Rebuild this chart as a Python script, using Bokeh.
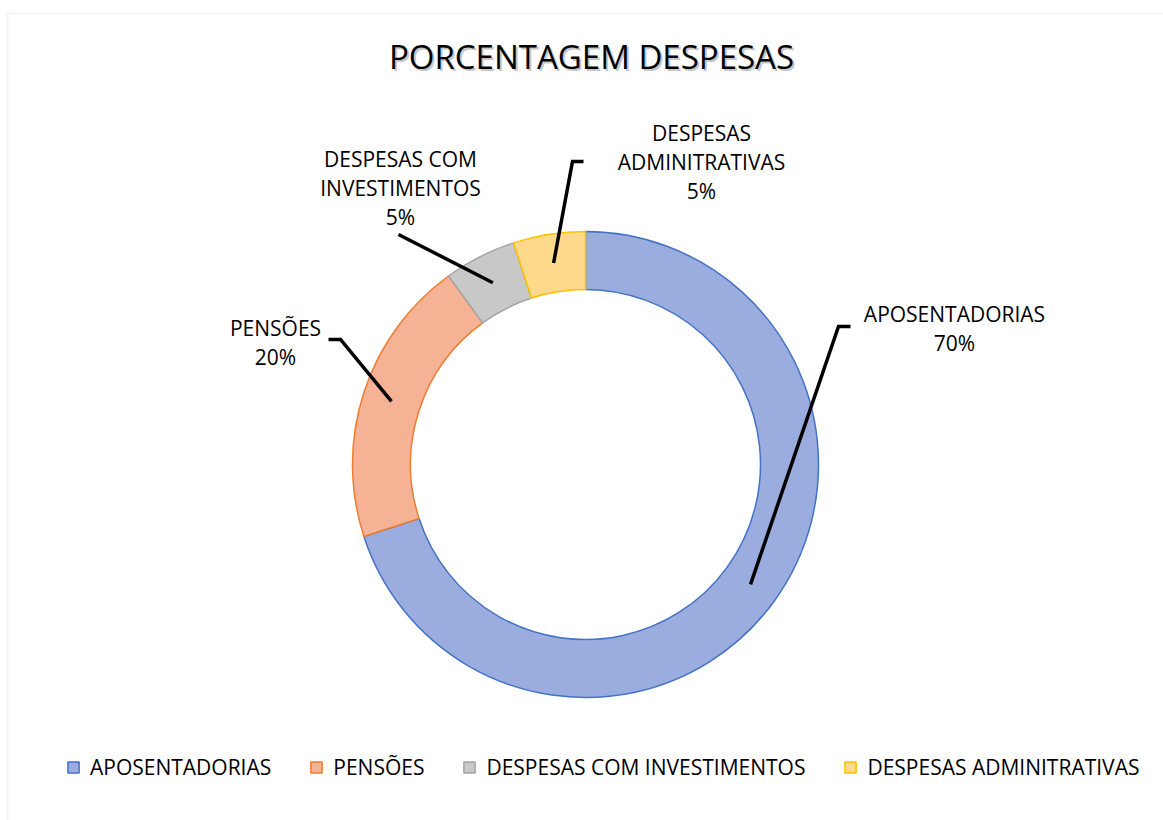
import numpy as np
from bokeh.plotting import figure
from bokeh.models import Range1d, ColumnDataSource, Legend, LegendItem, BoxAnnotation
from bokeh.core.properties import value
from bokeh.embed import file_html
from bokeh.resources import INLINE

# ---------------- data ----------------
title_text = "PORCENTAGEM DESPESAS"
categories = ["APOSENTADORIAS", "PENSÕES", "DESPESAS COM INVESTIMENTOS", "DESPESAS ADMINITRATIVAS"]
percentages = [70, 20, 5, 5]
label_lines = [["APOSENTADORIAS"], ["PENSÕES"], ["DESPESAS COM", "INVESTIMENTOS"], ["DESPESAS", "ADMINITRATIVAS"]]

# ---------------- style / layout ----------------
fill_colors = ["#9badde", "#f5b294", "#c8c8c8", "#fdd98c"]
line_colors = ["#4472c4", "#ed7d31", "#a5a5a5", "#ffc000"]
FONT = "Open Sans"
W, H = 1163, 820
CX, CY = 585, H - 464
R_IN, R_OUT = 175, 233
R_MID = (R_IN + R_OUT) / 2
# leader elbow / end points and label anchors (screen px, y downward)
leader_elbow = [(838, 326), (340, 339), (398, 234), (572, 161)]
leader_end = [(850, 326), (328, 339), (398, 234), (583, 161)]
label_anchor = [(954, 313), (275, 327), (400, 158), (701, 132)]
LINE_STEP = 29

p = figure(width=W, height=H, x_range=Range1d(0, W), y_range=Range1d(0, H),
           output_backend="svg", toolbar_location=None, x_axis_type=None, y_axis_type=None,
           min_border=0, outline_line_color=None, background_fill_color="white")
p.grid.visible = False

# chart border (light gray, top & left visible)
p.add_layout(BoxAnnotation(left=7, top=H - 13, right=W + 20, bottom=-20,
                           fill_alpha=0, line_color="#d9d9d9", line_width=2))

# donut slices
frac = np.array(percentages, dtype=float) / sum(percentages)
cum = np.concatenate([[0], np.cumsum(frac)[:-1]])
start = np.pi / 2 - 2 * np.pi * cum
end = start - 2 * np.pi * frac
mid = (start + end) / 2
src = ColumnDataSource(dict(cat=categories, start=start, end=end,
                            fill=fill_colors, line=line_colors))
r = p.annular_wedge(x=CX, y=CY, inner_radius=R_IN, outer_radius=R_OUT,
                    start_angle="start", end_angle="end", direction="clock",
                    fill_color="fill", line_color="line", line_width=1.5, source=src)

# leader lines
xs, ys = [], []
for i in range(len(categories)):
    x0 = CX + R_MID * np.cos(mid[i])
    y0 = CY + R_MID * np.sin(mid[i])
    ex, ey = leader_elbow[i]
    nx, ny = leader_end[i]
    xs.append([x0, ex, nx])
    ys.append([y0, H - ey, H - ny])
p.multi_line(xs=xs, ys=ys, line_color="black", line_width=3.5, line_join="miter")

# data labels
tx, ty, tt = [], [], []
for i in range(len(categories)):
    lines = label_lines[i] + [f"{percentages[i]}%"]
    ax, ay = label_anchor[i]
    for k, ln in enumerate(lines):
        tx.append(ax)
        ty.append(H - (ay + k * LINE_STEP))
        tt.append(ln)
p.text(x=tx, y=ty, text=tt, text_font=value(FONT), text_font_size="21px",
       text_align="center", text_baseline="middle", text_color="#000000")

# title with shadow
p.text(x=[591 + 2], y=[H - 56 - 2], text=[title_text], text_font=value(FONT),
       text_font_size="33px", text_align="center", text_baseline="middle",
       text_color="#7f7f7f", text_alpha=0.45)
p.text(x=[591], y=[H - 56], text=[title_text], text_font=value(FONT),
       text_font_size="33px", text_align="center", text_baseline="middle",
       text_color="#000000")

# legend
items = [LegendItem(label=c, renderers=[r], index=i) for i, c in enumerate(categories)]
legend = Legend(items=items, orientation="horizontal", location=(66, 39),
                label_text_font=FONT, label_text_font_size="21px", label_text_color="#000000",
                glyph_width=14, glyph_height=14, spacing=38, label_standoff=10,
                border_line_color=None, background_fill_alpha=0, padding=0, margin=0,
                label_height=14)
p.add_layout(legend)

open("out.html", "w").write(file_html(p, INLINE))
